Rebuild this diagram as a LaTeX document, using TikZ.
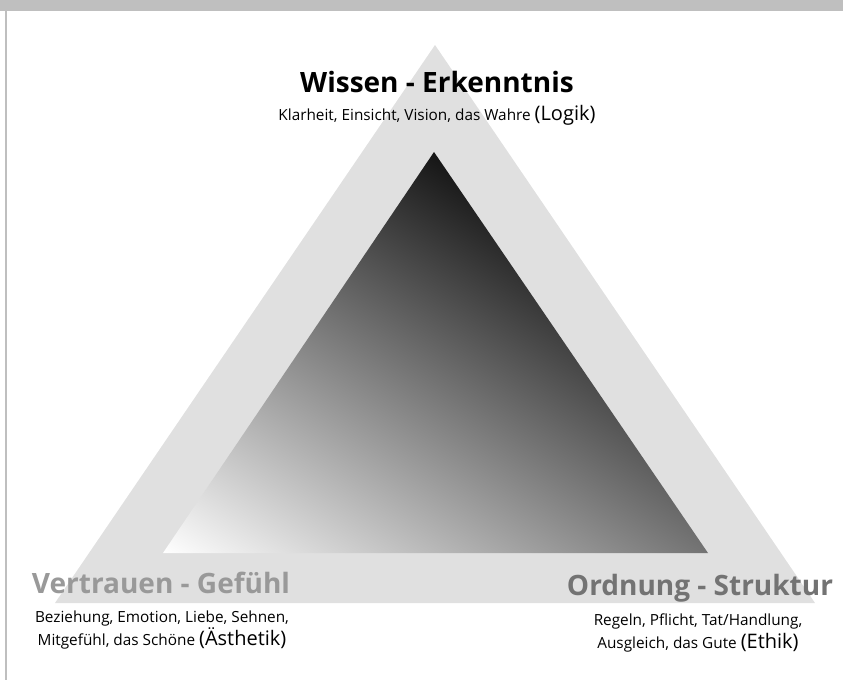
\documentclass[tikz,border=0pt]{standalone}
\usepackage{fontspec}
\setmainfont{Open Sans}
\usepackage{tikz}
\usetikzlibrary{positioning, calc}

\definecolor{barGray}{HTML}{BFBFBF}
\definecolor{outerGray}{HTML}{E0E0E0}
\definecolor{leftTitle}{HTML}{999999}
\definecolor{rightTitle}{HTML}{737373}

\newcommand{\field}[1]{{\fontsize{15}{17}\selectfont #1}}

\begin{document}
\begin{tikzpicture}[
    x=0.75pt, y=-0.75pt,
    title/.style={font=\fontsize{21}{25}\selectfont\bfseries, anchor=base, inner sep=0pt},
    sub/.style={font=\fontsize{11.5}{17.25}\selectfont, align=center, anchor=base, inner sep=0pt}
]
\useasboundingbox (0,0) rectangle (843,684);

% frame
\fill[barGray] (0,0) rectangle (843,11);
\draw[barGray, line width=1.5pt] (6,11) -- (6,680);

% outer triangle
\coordinate (oa) at (435,45);
\coordinate (ob) at (55,603);
\coordinate (oc) at (815,603);
\fill[outerGray] (oa) -- (ob) -- (oc) -- cycle;

% inner triangle with gradient
\coordinate (ia) at (434,152);
\coordinate (ib) at (163,553);
\coordinate (ic) at (708,553);
\begin{scope}
  \clip (ia) -- (ib) -- (ic) -- cycle;
  \shade[transform canvas={rotate around={-32:(ib)}}, bottom color=white, top color=black!92]
    (-500,553) rectangle (800,68);
\end{scope}

% labels (base of multi-line nodes = last line)
\node[title] (wissen) at (437,93) {Wissen - Erkenntnis};
\node[sub] (logik) at (437,121) {Klarheit, Einsicht, Vision, das Wahre \field{(Logik)}};

\node[title, text=leftTitle] (vertrauen) at (161,593) {Vertrauen - Gefühl};
\node[sub] (aesthetik) at (162,645) {Beziehung, Emotion, Liebe, Sehnen,\\Mitgefühl, das Schöne \field{(Ästhetik)}};

\node[title, text=rightTitle] (ordnung) at (700,595) {Ordnung - Struktur};
\node[sub] (ethik) at (698,648) {Regeln, Pflicht, Tat/Handlung,\\Ausgleich, das Gute \field{(Ethik)}};

\end{tikzpicture}
\end{document}
